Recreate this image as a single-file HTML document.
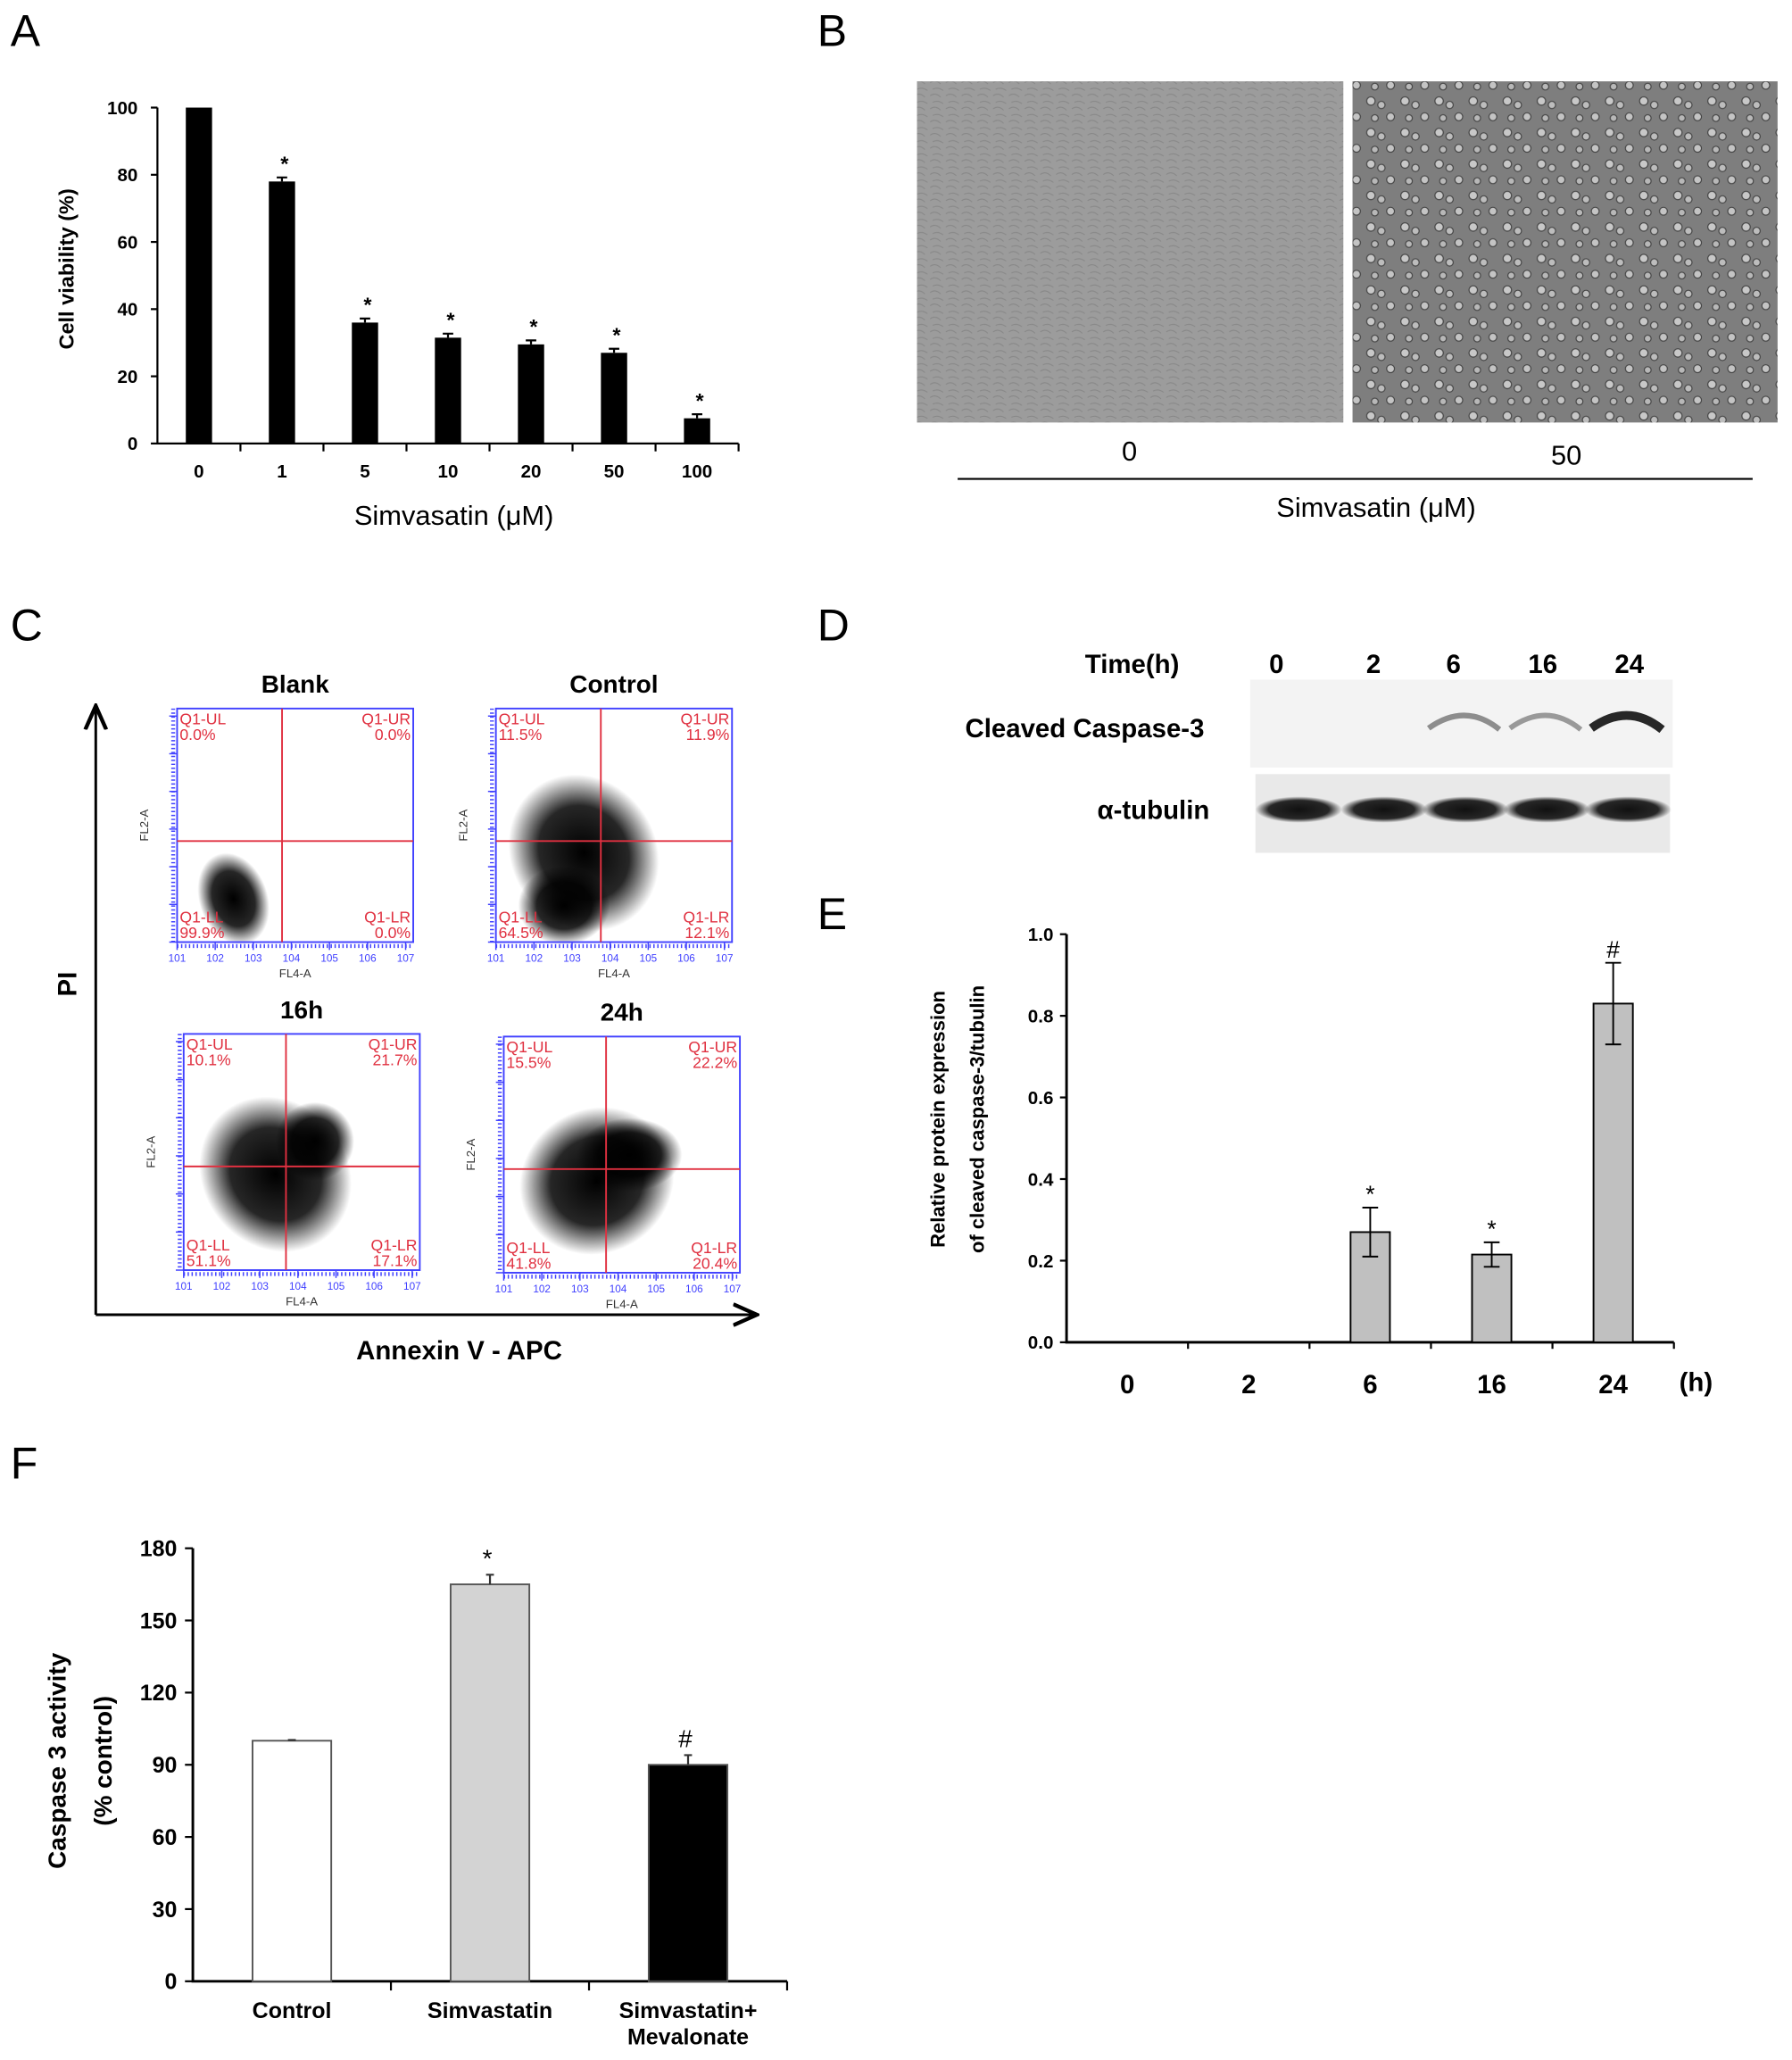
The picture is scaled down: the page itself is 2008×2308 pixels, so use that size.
<!DOCTYPE html>
<html><head><meta charset="utf-8">
<style>
html,body{margin:0;padding:0;background:#fff;}
svg{display:block;}
text{font-family:"Liberation Sans",Arial,sans-serif;}
</style></head>
<body>
<svg id="fig" width="2008" height="2308" viewBox="0 0 1366 1570" preserveAspectRatio="none" xmlns="http://www.w3.org/2000/svg">
<defs>
  <pattern id="cells" width="26" height="24" patternUnits="userSpaceOnUse">
    <rect width="26" height="24" fill="#7e7e7e"/>
    <circle cx="5" cy="5" r="3.2" fill="#c8c8c8" stroke="#444" stroke-width="0.8"/>
    <circle cx="13" cy="8" r="2.8" fill="#bdbdbd" stroke="#444" stroke-width="0.8"/>
    <circle cx="20" cy="17" r="3" fill="#c4c4c4" stroke="#444" stroke-width="0.8"/>
    <circle cx="8" cy="18" r="2.6" fill="#b8b8b8" stroke="#444" stroke-width="0.8"/>
  </pattern>
  <pattern id="conf" width="12" height="10" patternUnits="userSpaceOnUse">
    <rect width="12" height="10" fill="#9c9c9c"/>
    <path d="M1 3 Q5 0 9 4 M3 8 Q7 6 11 9" stroke="#888" stroke-width="0.7" fill="none"/>
  </pattern>
  <radialGradient id="cloud">
    <stop offset="0" stop-color="#000" stop-opacity="1"/>
    <stop offset="0.6" stop-color="#000" stop-opacity="0.85"/>
    <stop offset="1" stop-color="#000" stop-opacity="0"/>
  </radialGradient>
  <radialGradient id="band">
    <stop offset="0" stop-color="#111" stop-opacity="1"/>
    <stop offset="0.7" stop-color="#111" stop-opacity="0.9"/>
    <stop offset="1" stop-color="#111" stop-opacity="0"/>
  </radialGradient>
  <marker id="arr" markerWidth="10" markerHeight="10" refX="8" refY="5" orient="auto"><path d="M0 1 L9 5 L0 9" fill="none" stroke="#000" stroke-width="1.5"/></marker>
</defs>

<!-- Panel letters -->
<text x="8" y="35" font-size="34">A</text>
<text x="623" y="35" font-size="34">B</text>
<text x="8" y="488" font-size="34">C</text>
<text x="623" y="488" font-size="34">D</text>
<text x="623" y="708" font-size="34">E</text>
<text x="8" y="1127" font-size="34">F</text>

<g id="chartA"></g>

<!-- Panel B -->
<g>
  <rect x="699" y="62" width="325" height="260" fill="url(#conf)"/>
  <rect x="1031" y="62" width="324" height="260" fill="url(#cells)"/>
  <text x="861" y="351" font-size="21" text-anchor="middle">0</text>
  <text x="1194" y="354" font-size="21" text-anchor="middle">50</text>
  <line x1="730" y1="365" x2="1336" y2="365" stroke="#000" stroke-width="1.5"/>
  <text x="1049" y="394" font-size="21" text-anchor="middle">Simvasatin (μM)</text>
</g>

<g id="panelC">
  <line x1="73" y1="1002" x2="73" y2="540" stroke="#000" stroke-width="2" marker-end="url(#arr)"/>
  <line x1="73" y1="1002" x2="575" y2="1002" stroke="#000" stroke-width="2" marker-end="url(#arr)"/>
  <text transform="translate(58,750) rotate(-90)" font-size="20" font-weight="bold" text-anchor="middle">PI</text>
  <text x="350" y="1036" font-size="20" font-weight="bold" text-anchor="middle">Annexin V - APC</text>
</g>

<!-- Panel D -->
<g>
  <text x="863" y="513" font-size="20" font-weight="bold" text-anchor="middle">Time(h)</text>
  <g id="laneLabels"></g>
  <rect x="953" y="518" width="322" height="67" fill="#f3f3f3"/>
  <rect x="957" y="590" width="316" height="60" fill="#e9e9e9"/>
  <text x="918" y="562" font-size="20" font-weight="bold" text-anchor="end">Cleaved Caspase-3</text>
  <text x="922" y="624" font-size="20" font-weight="bold" text-anchor="end">α-tubulin</text>
  <g id="bands"></g>
</g>

<g id="chartE"></g>
<g id="chartF"></g>
</svg>

<script>
// ---- Chart A data ----
const aCats = ["0","1","5","10","20","50","100"];
const aVals = [100,78,36,31.5,29.5,27,7.5];
const aErr = [0,1.2,1.2,1.2,1.2,1.2,1.2];
const aTicks = [0,20,40,60,80,100];
// ---- Chart E data ----
const eCats = ["0","2","6","16","24"];
const eVals = [0,0,0.27,0.215,0.83];
const eErr = [0,0,0.06,0.03,0.1];
const eMarks = ["","","*","*","#"];
const eTicks = ["0.0","0.2","0.4","0.6","0.8","1.0"];
// ---- Chart F data ----
const fCats = [["Control"],["Simvastatin"],["Simvastatin+","Mevalonate"]];
const fVals = [100,165,90];
const fErr = [0.3,4,4];
const fMarks = ["","*","#"];
const fTicks = [0,30,60,90,120,150,180];
// ---- Western blot band intensities ----
const wLanes = ["0","2","6","16","24"];
const wCaspase = [0,0,0.45,0.4,0.9];
// ---- Flow quadrant percents ----
const flowTitles = ["Blank","Control","16h","24h"];
const flowUL = ["0.0%","11.5%","10.1%","15.5%"];
const flowUR = ["0.0%","11.9%","21.7%","22.2%"];
const flowLL = ["99.9%","64.5%","51.1%","41.8%"];
const flowLR = ["0.0%","12.1%","17.1%","20.4%"];

const NS="http://www.w3.org/2000/svg";
function mk(parent,tag,attrs,text){const e=document.createElementNS(NS,tag);for(const k in attrs)e.setAttribute(k,attrs[k]);if(text!==undefined)e.textContent=text;parent.appendChild(e);return e;}

// ---- Chart A ----
(function(){
  const g=document.getElementById('chartA');
  const x0=120,x1=563,y0=338,yTop=82,max=100;
  const y=v=>y0-(v/max)*(y0-yTop);
  const bw=(x1-x0)/aCats.length;
  const ax=mk(g,'path',{d:`M${x0} ${yTop} V${y0} H${x1}`,stroke:'#000','stroke-width':1.5,fill:'none'});
  
  
  aTicks.forEach(t=>{
    mk(g,'line',{x1:x0-5,x2:x0,y1:y(t),y2:y(t),stroke:'#000','stroke-width':1.5});
    const tl=mk(g,'text',{x:x0-15,y:y(t)+5,'font-size':14,'font-weight':'bold','text-anchor':'end'},t);
    
    
  });
  aCats.forEach((c,i)=>{
    const cx=x0+bw*(i+0.5);
    mk(g,'line',{x1:x0+bw*(i+1),x2:x0+bw*(i+1),y1:y0,y2:y0+6,stroke:'#000','stroke-width':1.5});
    const b=mk(g,'rect',{x:cx-10,y:y(aVals[i]),width:20,height:y0-y(aVals[i]),fill:'#000'});
    
    
    if(aErr[i]>0){
      mk(g,'path',{d:`M${cx} ${y(aVals[i])} V${y(aVals[i]+aErr[i])} M${cx-4} ${y(aVals[i]+aErr[i])} H${cx+4}`,stroke:'#000','stroke-width':1.5});
      const s=mk(g,'text',{x:cx+2,y:y(aVals[i]+aErr[i])-5,'font-size':16,'font-weight':'bold','text-anchor':'middle'},'*');
      
      
    }
    const tl=mk(g,'text',{x:cx,y:364,'font-size':14,'font-weight':'bold','text-anchor':'middle'},c);
    
    
  });
  const yt=mk(g,'text',{transform:'translate(56,205) rotate(-90)','font-size':16,'font-weight':'bold','text-anchor':'middle'},'Cell viability (%)');
  
  
  const xt=mk(g,'text',{x:346,y:400,'font-size':21,'text-anchor':'middle'},'Simvasatin (μM)');
  
  
})();

// ---- Panel C flow plots ----
(function(){
  const g=document.getElementById('panelC');
  const boxes=[[135,540,180,178,215,641],[378,540,180,178,458,641],[140,788,180,180,218,889],[384,790,180,180,462,891]];
  const clouds=[
    [[178,685,26,36,-20]],
    [[445,650,55,62,-35],[430,690,35,30,0]],
    [[210,895,55,62,-40],[240,870,30,30,0]],
    [[455,900,60,55,-30],[480,880,40,28,0]]
  ];
  boxes.forEach((b,i)=>{
    const [x,y,w,h,cx,cy]=b;
    const sg=mk(g,'g',{});
    
    
    const t=mk(sg,'text',{x:x+w/2,y:y-12,'font-size':19,'font-weight':'bold','text-anchor':'middle'},flowTitles[i]);
    
    
    clouds[i].forEach(c=>mk(sg,'ellipse',{cx:c[0],cy:c[1],rx:c[2],ry:c[3],fill:'url(#cloud)',transform:`rotate(${c[4]} ${c[0]} ${c[1]})`}));
    mk(sg,'rect',{x:x,y:y,width:w,height:h,fill:'none',stroke:'#4040ff','stroke-width':1.3});
    // ticks
    for(let k=0;k<=6;k++){
      const tx=x+w*k/6.2, ty=y+h-h*k/6.2;
      mk(sg,'line',{x1:tx,x2:tx,y1:y+h,y2:y+h+6,stroke:'#4040ff','stroke-width':1});
      mk(sg,'line',{x1:x,x2:x-6,y1:ty,y2:ty,stroke:'#4040ff','stroke-width':1});
      mk(sg,'text',{x:tx,y:y+h+15,'font-size':8,fill:'#4040ff','text-anchor':'middle'},'10'+(k+1));
    }
    mk(sg,'path',{d:`M${x} ${y+h+3} H${x+w}`,stroke:'#4040ff','stroke-width':3,'stroke-dasharray':'1 2'});
    mk(sg,'path',{d:`M${x-3} ${y} V${y+h}`,stroke:'#4040ff','stroke-width':3,'stroke-dasharray':'1 2'});
    mk(sg,'text',{x:x+w/2,y:y+h+27,'font-size':9,fill:'#333','text-anchor':'middle'},'FL4-A');
    mk(sg,'text',{transform:`translate(${x-22},${y+h/2}) rotate(-90)`,'font-size':9,fill:'#333','text-anchor':'middle'},'FL2-A');
    mk(sg,'line',{x1:cx,x2:cx,y1:y,y2:y+h,stroke:'#e03040','stroke-width':1.3});
    mk(sg,'line',{x1:x,x2:x+w,y1:cy,y2:cy,stroke:'#e03040','stroke-width':1.3});
    const red={'font-size':12,fill:'#e03040'};
    mk(sg,'text',Object.assign({x:x+2,y:y+12},red),'Q1-UL');
    mk(sg,'text',Object.assign({x:x+2,y:y+24},red),flowUL[i]);
    mk(sg,'text',Object.assign({x:x+w-2,y:y+12,'text-anchor':'end'},red),'Q1-UR');
    mk(sg,'text',Object.assign({x:x+w-2,y:y+24,'text-anchor':'end'},red),flowUR[i]);
    mk(sg,'text',Object.assign({x:x+2,y:y+h-15},red),'Q1-LL');
    mk(sg,'text',Object.assign({x:x+2,y:y+h-3},red),flowLL[i]);
    mk(sg,'text',Object.assign({x:x+w-2,y:y+h-15,'text-anchor':'end'},red),'Q1-LR');
    mk(sg,'text',Object.assign({x:x+w-2,y:y+h-3,'text-anchor':'end'},red),flowLR[i]);
  });
})();

// ---- Panel D bands ----
(function(){
  const ll=document.getElementById('laneLabels');
  const bg=document.getElementById('bands');
  const lx=[973,1047,1108,1176,1242];
  const bx=[990,1055,1117,1179,1241];
  wLanes.forEach((l,i)=>{
    const t=mk(ll,'text',{x:lx[i],y:513,'font-size':20,'font-weight':'bold','text-anchor':'middle'},l);
    
    
    const tb=mk(bg,'ellipse',{cx:bx[i],cy:617,rx:33,ry:10,fill:'url(#band)'});
    
    
    if(wCaspase[i]>0){
      const cb=mk(bg,'path',{d:`M${bx[i]-28} 555 Q${bx[i]} 535 ${bx[i]+26} 556`,stroke:'#111','stroke-width':2+wCaspase[i]*5,fill:'none','stroke-opacity':wCaspase[i]});
      
      
    }
  });
})();

// ---- Chart E ----
(function(){
  const g=document.getElementById('chartE');
  const x0=813,x1=1276,y0=1023,yTop=712;
  const y=v=>y0-v*(y0-yTop);
  const bw=(x1-x0)/eCats.length;
  const ax=mk(g,'path',{d:`M${x0} ${yTop} V${y0} H${x1}`,stroke:'#000','stroke-width':2,fill:'none'});
  
  
  eTicks.forEach(t=>{
    const v=parseFloat(t);
    mk(g,'line',{x1:x0-5,x2:x0,y1:y(v),y2:y(v),stroke:'#000','stroke-width':1.5});
    const tl=mk(g,'text',{x:x0-10,y:y(v)+5,'font-size':14,'font-weight':'bold','text-anchor':'end'},t);
    
    
  });
  eCats.forEach((c,i)=>{
    const cx=x0+bw*(i+0.5);
    mk(g,'line',{x1:x0+bw*(i+1),x2:x0+bw*(i+1),y1:y0,y2:y0+5,stroke:'#000','stroke-width':1.5});
    if(eVals[i]>0){
      const b=mk(g,'rect',{x:cx-15,y:y(eVals[i]),width:30,height:y0-y(eVals[i]),fill:'#c0c0c0',stroke:'#000','stroke-width':1.3});
      
      
      const hi=y(eVals[i]+eErr[i]),lo=y(eVals[i]-eErr[i]);
      mk(g,'path',{d:`M${cx} ${hi} V${lo} M${cx-6} ${hi} H${cx+6} M${cx-6} ${lo} H${cx+6}`,stroke:'#000','stroke-width':1.3});
      const s=mk(g,'text',{x:cx,y:hi-4,'font-size':18,'text-anchor':'middle'},eMarks[i]);
      
      
    }
    const tl=mk(g,'text',{x:cx,y:1062,'font-size':20,'font-weight':'bold','text-anchor':'middle'},c);
    
    
  });
  const h=mk(g,'text',{x:1280,y:1060,'font-size':20,'font-weight':'bold'},'(h)');
  
  
  const t1=mk(g,'text',{transform:'translate(720,853) rotate(-90)','font-size':15,'font-weight':'bold','text-anchor':'middle'},'Relative protein expression');
  
  
  const t2=mk(g,'text',{transform:'translate(750,853) rotate(-90)','font-size':15,'font-weight':'bold','text-anchor':'middle'},'of cleaved caspase-3/tubulin');
  
  
})();

// ---- Chart F ----
(function(){
  const g=document.getElementById('chartF');
  const x0=147,x1=600,y0=1510,yTop=1180,max=180;
  const y=v=>y0-(v/max)*(y0-yTop);
  const bw=(x1-x0)/fVals.length;
  const fills=['#fff','#d3d3d3','#000'];
  const ax=mk(g,'path',{d:`M${x0} ${yTop} V${y0} H${x1}`,stroke:'#000','stroke-width':2,fill:'none'});
  
  
  fTicks.forEach(t=>{
    mk(g,'line',{x1:x0-6,x2:x0,y1:y(t),y2:y(t),stroke:'#000','stroke-width':1.5});
    const tl=mk(g,'text',{x:x0-12,y:y(t)+6,'font-size':17,'font-weight':'bold','text-anchor':'end'},t);
    
    
  });
  fVals.forEach((v,i)=>{
    const cx=x0+bw*(i+0.5);
    mk(g,'line',{x1:x0+bw*(i+1),x2:x0+bw*(i+1),y1:y0,y2:y0+7,stroke:'#000','stroke-width':1.5});
    const b=mk(g,'rect',{x:cx-30,y:y(v),width:60,height:y0-y(v),fill:fills[i],stroke:'#555','stroke-width':1.3});
    
    
    const hi=y(v+fErr[i]);
    mk(g,'path',{d:`M${cx} ${y(v)} V${hi} M${cx-3} ${hi} H${cx+3}`,stroke:'#333','stroke-width':1.5});
    if(fMarks[i]){
      const s=mk(g,'text',{x:cx-2,y:hi-6,'font-size':19,'text-anchor':'middle'},fMarks[i]);
      
      
    }
    fCats[i].forEach((line,k)=>{
      const tl=mk(g,'text',{x:cx,y:1538+k*20,'font-size':17,'font-weight':'bold','text-anchor':'middle'},line);
      
      
    });
  });
  const t1=mk(g,'text',{transform:'translate(50,1342) rotate(-90)','font-size':19,'font-weight':'bold','text-anchor':'middle'},'Caspase 3 activity');
  
  
  const t2=mk(g,'text',{transform:'translate(85,1342) rotate(-90)','font-size':19,'font-weight':'bold','text-anchor':'middle'},'(% control)');
  
  
})();
</script>
</body></html>
